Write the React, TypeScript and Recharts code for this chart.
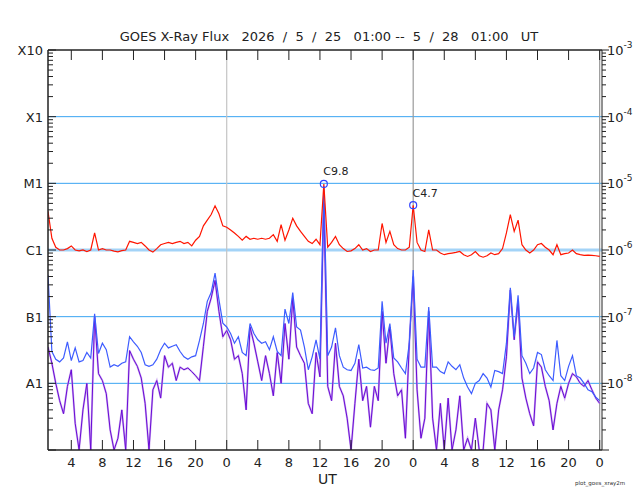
import React from 'react';
import { LineChart, Line, XAxis, YAxis, ReferenceLine, ReferenceDot } from 'recharts';

// sampling of the three series: hours since 5/25 00:00 UT, every 30 min from 01:00
const START_HOUR = 1;
const STEP_HOURS = 0.5;
const END_HOUR = 72.3;

// long channel, in units of 1e-6 W/m2
const RED_E6 = [
  3.8, 1.5, 1.1, 1.0, 1.0, 1.05, 1.15, 1.0, 0.97, 1.0, 0.95, 1.0,
  1.8, 1.0, 1.05, 1.0, 1.0, 0.96, 0.94, 0.98, 1.0, 1.35, 1.3, 1.25,
  1.3, 1.15, 1.0, 0.93, 1.05, 1.2, 1.25, 1.3, 1.25, 1.3, 1.35, 1.25,
  1.3, 1.15, 1.4, 1.6, 2.3, 2.8, 3.4, 4.6, 3.5, 2.3, 2.2, 2.0,
  1.8, 1.6, 1.4, 1.6, 1.45, 1.5, 1.45, 1.5, 1.45, 1.5, 1.7, 1.35,
  2.4, 1.4, 2.0, 3.0, 2.3, 1.9, 1.6, 1.35, 1.25, 1.45, 1.2, 9.8,
  1.1, 1.3, 1.6, 1.2, 1.05, 0.95, 0.97, 1.05, 1.2, 1.0, 1.05, 0.95,
  1.0, 1.0, 2.5, 1.3, 1.9, 1.2, 1.05, 1.0, 1.0, 1.1, 4.7, 1.3,
  1.0, 0.95, 2.0, 1.0, 1.0, 0.9, 0.85, 0.88, 0.9, 0.92, 0.95, 0.85,
  0.8, 0.85, 0.95, 0.82, 0.78, 0.82, 0.9, 0.85, 0.88, 1.05, 1.8, 3.4,
  1.9, 2.8, 1.2, 1.0, 0.9, 1.0, 1.2, 1.25, 1.1, 1.0, 0.85, 1.2,
  0.85, 0.88, 0.9, 1.0, 0.88, 0.85, 0.83, 0.84, 0.83, 0.82, 0.8,
];

// short channel, in units of 1e-8 W/m2
const BLUE_E8 = [
  42, 3.0, 2.3, 2.1, 2.4, 4.2, 2.2, 3.4, 2.1, 2.2, 2.9, 2.4,
  11, 2.8, 4.0, 3.2, 1.75, 1.9, 1.8, 2.0, 2.1, 5.0, 4.2, 3.6,
  2.9, 1.9, 1.8, 1.9, 2.3, 3.2, 4.0, 3.4, 3.6, 3.8, 3.0, 2.5,
  2.3, 2.5, 2.6, 4.4, 7.9, 17, 23, 45, 18, 8.0, 7.0, 5.6,
  4.0, 5.0, 2.9, 2.6, 7.9, 5.6, 4.5, 4.0, 4.2, 3.2, 5.0, 3.0,
  2.6, 13, 7.9, 23, 7.0, 6.3, 3.5, 1.6, 2.5, 4.5, 2.3, 900,
  2.6, 3.5, 6.8, 2.6, 1.75, 1.6, 1.56, 2.0, 3.8, 1.7, 1.75, 1.6,
  1.56, 1.7, 17, 4.0, 7.9, 2.4, 2.1, 1.7, 1.4, 4.0, 50, 2.3,
  1.75, 1.75, 14, 1.75, 1.75, 1.5, 1.4, 2.1, 1.8, 1.6, 1.9, 1.2,
  0.88, 0.7, 1.0, 1.1, 1.4, 1.2, 0.88, 1.56, 1.5, 1.4, 4.0, 27,
  5.0, 21, 2.6, 2.0, 1.4, 1.7, 2.9, 2.7, 1.6, 1.3, 1.1, 4.4,
  1.3, 1.1, 1.8, 2.6, 1.3, 1.2, 1.0, 0.8, 0.75, 0.62, 0.55,
];

// second short channel, in units of 1e-8 W/m2 (0.1 = bottom of the plot)
const PURPLE_E8 = [
  3.5, 2.0, 1.0, 0.55, 0.35, 0.9, 1.6, 0.25, 0.1, 0.4, 1.0, 0.1,
  10, 1.4, 1.1, 0.7, 0.2, 0.1, 0.15, 0.4, 0.1, 3.1, 2.3, 1.8,
  1.2, 0.5, 0.1, 0.8, 1.1, 0.6, 2.6, 1.75, 2.0, 1.1, 1.75, 1.6,
  1.7, 1.5, 1.3, 1.1, 3.6, 12, 19, 35, 12, 5.0, 6.2, 4.5,
  2.3, 2.6, 1.4, 0.4, 7.0, 4.0, 2.1, 1.1, 2.6, 1.4, 0.65, 2.9,
  1.0, 7.9, 2.3, 19, 3.5, 2.6, 2.0, 0.5, 0.35, 2.9, 1.25, 500,
  0.9, 0.55, 4.0, 0.9, 0.65, 0.3, 0.1, 0.5, 2.3, 0.55, 0.9, 0.22,
  0.9, 0.55, 12, 2.0, 7.0, 1.4, 0.65, 0.8, 0.15, 4.0, 40, 0.8,
  0.15, 0.3, 12, 0.3, 0.1, 0.5, 0.1, 0.6, 0.1, 0.2, 0.65, 0.1,
  0.15, 0.1, 0.3, 0.1, 0.1, 0.5, 0.4, 0.1, 0.4, 0.8, 2.5, 25,
  4.5, 17, 1.2, 0.6, 0.35, 0.23, 2.1, 1.75, 0.9, 0.55, 0.2, 0.5,
  0.9, 0.6, 1.0, 1.4, 1.25, 1.0, 0.9, 1.1, 0.8, 0.6, 0.5,
];

const HOUR_TICKS = [4, 8, 12, 16, 20, 24, 28, 32, 36, 40, 44, 48, 52, 56, 60, 64, 68, 72];
const DAY_LINES = [24, 48, 72];
const EXPONENTS = [-9, -8, -7, -6, -5, -4, -3];
const CLASS_LABELS = ['', 'A1', 'B1', 'C1', 'M1', 'X1', 'X10'];
const MINOR_STEPS = [2, 3, 4, 5, 6, 7, 8, 9];

const FLARE_HOURS = [36.5, 48];
const FLARE_FLUX = [9.8e-6, 4.7e-6];
const FLARE_LABELS = ['C9.8', 'C4.7'];

const TITLE = 'GOES X-Ray Flux   2026  /  5  /  25   01:00 --  5  /  28   01:00   UT';

const FONT = '"DejaVu Sans", sans-serif';
const INK = '#222';
const LEFT = 48;
const RIGHT = 602;
const TOP = 50;
const BOTTOM = 450;

const data = RED_E6.map((r, i) => ({
  h: START_HOUR + i * STEP_HOURS,
  red: r * 1e-6,
  blue: BLUE_E8[i] * 1e-8,
  purple: PURPLE_E8[i] * 1e-8,
}));

const decades = EXPONENTS.map((e) => Math.pow(10, e));
const yTicks = [
  ...decades,
  ...EXPONENTS.slice(0, -1).flatMap((e) => MINOR_STEPS.map((m) => m * Math.pow(10, e))),
];

function YTick(props: any) {
  const { y, payload } = props;
  const lg = Math.log10(payload.value);
  const exp = Math.round(lg);
  const major = Math.abs(lg - exp) < 1e-6;
  const len = major ? 8 : 5;
  return (
    <g>
      <line x1={LEFT} x2={LEFT + len} y1={y} y2={y} stroke={INK} strokeWidth={1} />
      <line x1={RIGHT} x2={RIGHT + len - 1} y1={y} y2={y} stroke={INK} strokeWidth={1} />
      {major && (
        <text x={43} y={y + 5} textAnchor="end" fontSize={13} fill={INK} fontFamily={FONT}>
          {CLASS_LABELS[exp + 9]}
        </text>
      )}
      {major && exp > -9 && (
        <text x={607} y={y + 5} fontSize={13} fill={INK} fontFamily={FONT}>
          <tspan>10</tspan>
          <tspan dy={-7} fontSize={9}>{exp}</tspan>
        </text>
      )}
    </g>
  );
}

function XTick(props: any) {
  const { x, payload } = props;
  return (
    <g>
      <line x1={x} x2={x} y1={BOTTOM} y2={BOTTOM - 10} stroke={INK} strokeWidth={1} />
      <line x1={x} x2={x} y1={TOP} y2={TOP + 10} stroke={INK} strokeWidth={1} />
      <text x={x} y={BOTTOM + 17} textAnchor="middle" fontSize={13} fill={INK} fontFamily={FONT}>
        {payload.value % 24}
      </text>
    </g>
  );
}

function FlareLabel(text: string) {
  return (props: any) => {
    const vb = props.viewBox || {};
    const cx = vb.x + (vb.width || 0) / 2;
    return (
      <text x={cx + 12} y={vb.y - 5} textAnchor="middle" fontSize={11} fill={INK} fontFamily={FONT}>
        {text}
      </text>
    );
  };
}

export default function App() {
  return (
    <div style={{ position: 'absolute', left: 0, top: 0, width: 640, height: 500, background: '#fff' }}>
      <div
        style={{
          position: 'absolute',
          left: 0,
          width: 658,
          top: 29,
          textAlign: 'center',
          fontFamily: FONT,
          fontSize: 13,
          color: INK,
          whiteSpace: 'pre',
        }}
      >
        {TITLE}
      </div>
      <LineChart width={640} height={500} data={data} margin={{ top: TOP, right: 640 - RIGHT, bottom: 20, left: 0 }}>
        {[1e-4, 1e-5, 1e-7, 1e-8].map((v) => (
          <ReferenceLine key={v} y={v} stroke="#3aa4f2" strokeWidth={1} />
        ))}
        <ReferenceLine y={1e-6} stroke="#a3d3f7" strokeWidth={3} />
        {DAY_LINES.map((d, i) => (
          <ReferenceLine key={d} x={d} stroke={i === 0 ? '#c4c4c4' : '#9a9a9a'} strokeWidth={1.2} />
        ))}
        <XAxis
          dataKey="h"
          type="number"
          domain={[START_HOUR, END_HOUR]}
          ticks={HOUR_TICKS}
          interval={0}
          tick={<XTick />}
          tickLine={false}
          axisLine={{ stroke: INK, strokeWidth: 1.5 }}
          height={30}
          allowDataOverflow
        />
        <YAxis
          scale="log"
          type="number"
          domain={[1e-9, 1e-3]}
          ticks={yTicks}
          interval={0}
          tick={<YTick />}
          tickLine={false}
          axisLine={{ stroke: INK, strokeWidth: 1.5 }}
          width={LEFT}
          allowDataOverflow
        />
        <ReferenceLine y={1e-3} stroke={INK} strokeWidth={1.5} />
        <ReferenceLine x={END_HOUR} stroke={INK} strokeWidth={1} />
        <Line dataKey="purple" type="linear" stroke="#c39cec" strokeWidth={2} strokeOpacity={0.8} dot={false} isAnimationActive={false} />
        <Line dataKey="purple" type="linear" stroke="#6a0ad6" strokeWidth={1} dot={false} isAnimationActive={false} />
        <Line dataKey="blue" type="linear" stroke="#3d5cff" strokeWidth={1.2} dot={false} isAnimationActive={false} />
        <Line dataKey="red" type="linear" stroke="#ff1500" strokeWidth={1.2} dot={false} isAnimationActive={false} />
        {FLARE_HOURS.map((h, i) => (
          <ReferenceDot
            key={h}
            x={h}
            y={FLARE_FLUX[i]}
            r={3.5}
            fill="none"
            stroke="#3344ff"
            strokeWidth={1.2}
            label={FlareLabel(FLARE_LABELS[i])}
          />
        ))}
      </LineChart>
      <div style={{ position: 'absolute', left: 318, top: 471, fontFamily: FONT, fontSize: 14, color: INK, lineHeight: '16px' }}>UT</div>
      <div style={{ position: 'absolute', left: 575, top: 480, fontFamily: FONT, fontSize: 5.5, color: '#333' }}>
        plot_goes_xray2m
      </div>
    </div>
  );
}
